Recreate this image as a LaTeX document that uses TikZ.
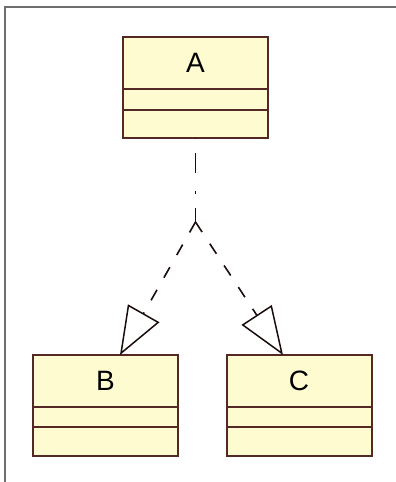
\documentclass[tikz,border=0pt]{standalone}
\usepackage{fontspec}
\setmainfont{Liberation Sans}
\usetikzlibrary{positioning,arrows.meta}
\definecolor{clsfill}{RGB}{255,251,208}
\definecolor{clsline}{RGB}{84,40,36}
\definecolor{framegray}{RGB}{110,110,110}
\tikzset{
  cls/.style={draw=clsline, fill=clsfill, line width=2pt, inner sep=0pt,
    outer sep=0pt, minimum width=145pt, font=\fontsize{28}{30}\selectfont},
  realize/.style={line width=1.6pt, dash pattern=on 12pt off 14pt,
    -{Triangle[open, length=48pt, width=36pt, line width=1.5pt]}},
  depend/.style={line width=1.6pt, dash pattern=on 20pt off 18pt on 3pt off 14pt,
    dash phase=40pt}
}
\begin{document}
\begin{tikzpicture}[x=1pt, y=-1pt]
      \useasboundingbox (0,0) rectangle (396,482);
      \draw[framegray, line width=2pt] (396,7) -- (5,7) -- (5,482);
      % classes
      \node[cls, minimum height=52pt] (A) at (195.5,63) {A};
      \node[cls, minimum height=21pt, below=0pt of A] (A2) {};
      \node[cls, minimum height=28pt, below=0pt of A2] (A3) {};
      \node[cls, minimum height=52pt] (B) at (105.5,381) {B};
      \node[cls, minimum height=20pt, below=0pt of B] (B2) {};
      \node[cls, minimum height=29pt, below=0pt of B2] (B3) {};
      \node[cls, minimum height=52pt] (C) at (299,381) {C};
      \node[cls, minimum height=20pt, below=0pt of C] (C2) {};
      \node[cls, minimum height=29pt, below=0pt of C2] (C3) {};
      \coordinate (fork) at (195.5,222);
      % links
      \begin{scope}[clsline!30!black]
        \draw[depend] (A3.south) to (fork);
        \draw[realize] (fork) to ([xshift=14.5pt]B.north);
        \draw[realize] (fork) to ([xshift=-16pt]C.north);
      \end{scope}
    \end{tikzpicture}
\end{document}
